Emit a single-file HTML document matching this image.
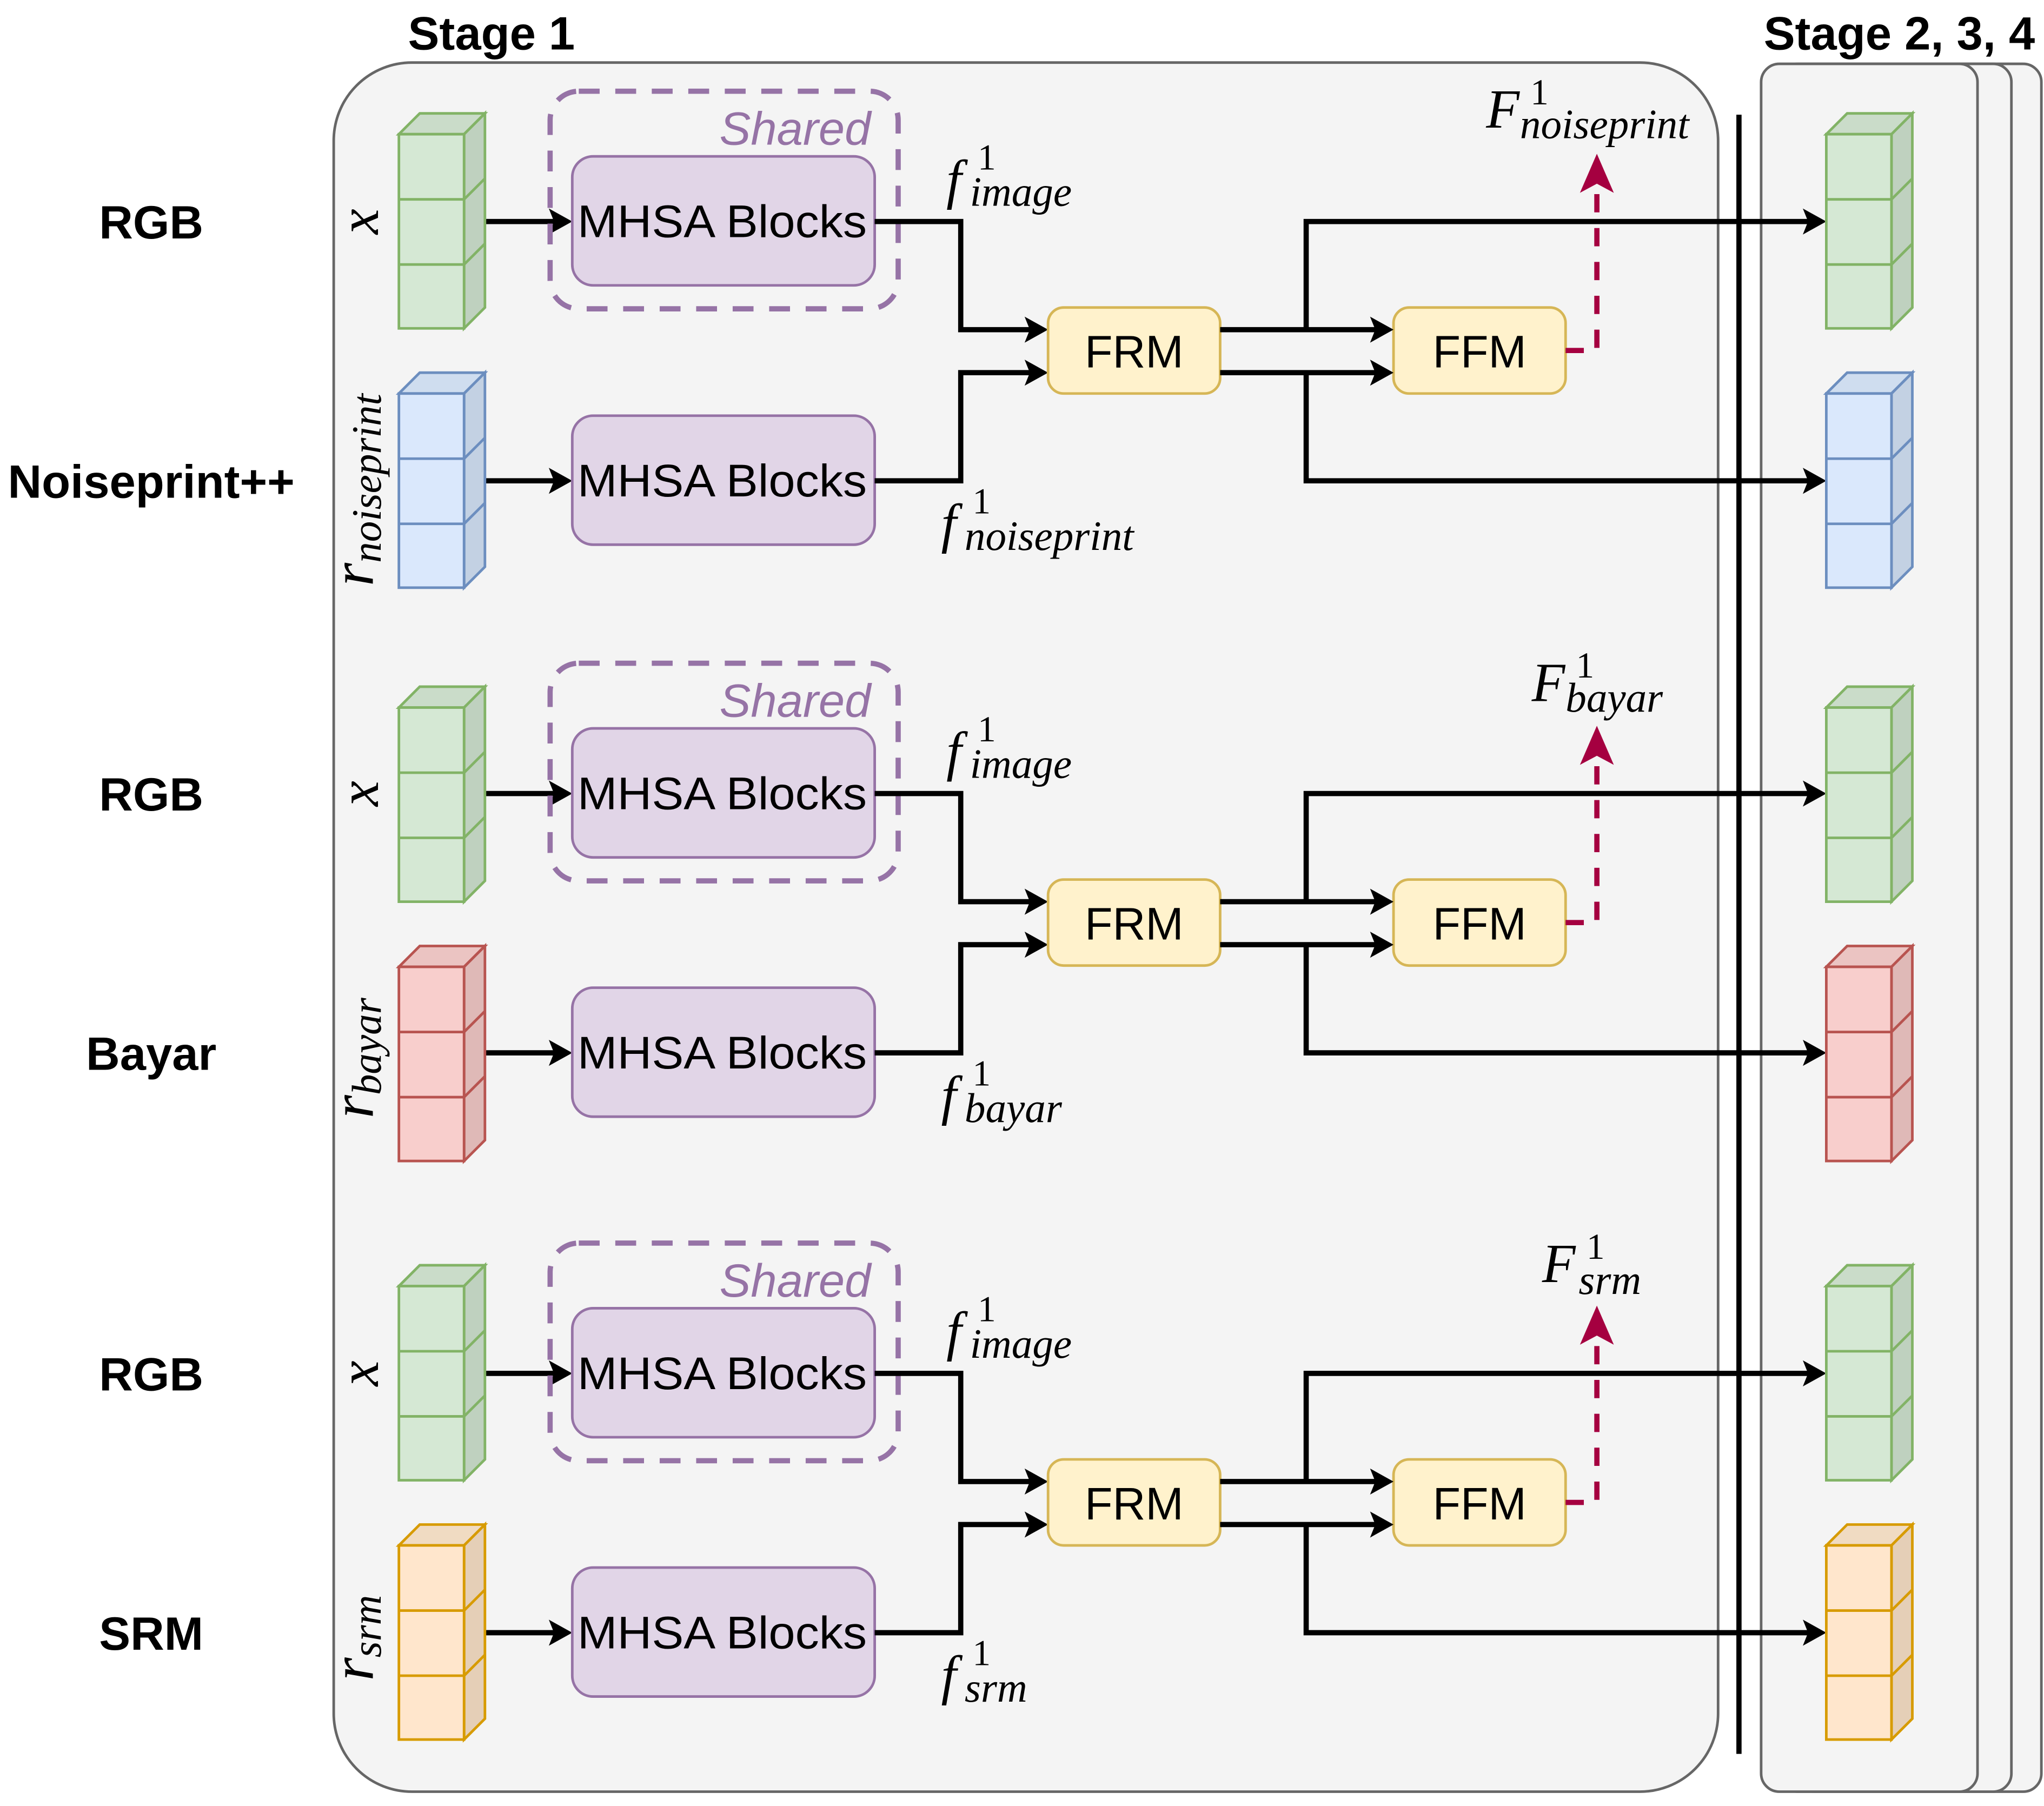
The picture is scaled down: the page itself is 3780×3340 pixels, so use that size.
<!DOCTYPE html>
<html><head><meta charset="utf-8"><style>
html,body{margin:0;padding:0;background:#fff;}
svg{display:block;}
.lbl{font-family:"Liberation Sans",sans-serif;font-weight:bold;font-size:36px;fill:#000;}
.box{font-family:"Liberation Sans",sans-serif;font-size:35px;fill:#000;}
.m{font-family:"Liberation Serif",serif;font-style:italic;fill:#000;}
.sh{font-family:"Liberation Sans",sans-serif;font-style:italic;font-size:36px;fill:#9673a6;}
.cf{fill:var(--f);stroke:var(--s);stroke-width:2;}
.ct{fill:var(--t);stroke:var(--s);stroke-width:2;}
.cs{fill:var(--d);stroke:var(--s);stroke-width:2;}
.cl{stroke:var(--s);stroke-width:2;fill:none;}
.g{--f:#d5e8d4;--t:#cadcc9;--d:#bfd1bf;--s:#82b366;}
.b{--f:#dae8fc;--t:#cfddef;--d:#c3d1e3;--s:#6c8ebf;}
.r{--f:#f8cecc;--t:#ebc4c2;--d:#dfb9b7;--s:#b85450;}
.o{--f:#ffe6cc;--t:#f0dbc2;--d:#e5cfb7;--s:#d79b00;}
.w{stroke:#000;stroke-width:4;fill:none;}
</style></head><body>
<svg width="3780" height="3340" viewBox="0 0 1568 1386" preserveAspectRatio="none" xmlns="http://www.w3.org/2000/svg">
<defs>
<symbol id="cube" overflow="visible">
<polygon class="ct" points="0,16 16,0 66,0 50,16"/>
<polygon class="cs" points="50,16 66,0 66,149 50,165"/>
<rect class="cf" x="0" y="16" width="50" height="149"/>
<line class="cl" x1="0" y1="66" x2="50" y2="66"/>
<line class="cl" x1="0" y1="116" x2="50" y2="116"/>
<line class="cl" x1="50" y1="66" x2="66" y2="50"/>
<line class="cl" x1="50" y1="116" x2="66" y2="100"/>
</symbol>
</defs>

<rect x="1378" y="49" width="188" height="1326" rx="14" fill="#f4f4f4" stroke="#666" stroke-width="2"/>
<rect x="1365" y="49" width="178" height="1326" rx="14" fill="#f4f4f4" stroke="#666" stroke-width="2"/>
<rect x="1351" y="49" width="166" height="1326" rx="14" fill="#f4f4f4" stroke="#666" stroke-width="2"/>
<rect x="256" y="48" width="1062" height="1327" rx="60" fill="#f4f4f4" stroke="#666" stroke-width="2"/>
<text class="lbl" x="313" y="38" font-size="32">Stage 1</text>
<text class="lbl" x="1353" y="38" font-size="32">Stage 2, 3, 4</text>

<g id="G1">
<path class="w" d="M372,170 H428"/><polygon points="439,170 421,160 425,170 421,180" fill="#000"/>
<path class="w" d="M372,369 H428"/><polygon points="439,369 421,359 425,369 421,379" fill="#000"/>
<rect x="422" y="70" width="267" height="167" rx="22" fill="none" stroke="#9673a6" stroke-width="4" stroke-dasharray="16,12"/>
<rect x="439" y="120" width="232" height="99" rx="16" fill="#e1d5e7" stroke="#9673a6" stroke-width="2"/>
<rect x="439" y="319" width="232" height="99" rx="16" fill="#e1d5e7" stroke="#9673a6" stroke-width="2"/>
<text class="box" x="443" y="182" textLength="222" lengthAdjust="spacingAndGlyphs">MHSA Blocks</text>
<text class="box" x="443" y="381" textLength="222" lengthAdjust="spacingAndGlyphs">MHSA Blocks</text>
<path class="w" d="M671,170 H737 V253 H793"/><polygon points="804,253 786,243 790,253 786,263" fill="#000"/>
<path class="w" d="M671,369 H737 V286 H793"/><polygon points="804,286 786,276 790,286 786,296" fill="#000"/>
<rect x="804" y="236" width="132" height="66" rx="12" fill="#fff2cc" stroke="#d6b656" stroke-width="2"/>
<rect x="1069" y="236" width="132" height="66" rx="12" fill="#fff2cc" stroke="#d6b656" stroke-width="2"/>
<text class="box" x="870" y="282" text-anchor="middle">FRM</text>
<text class="box" x="1135" y="282" text-anchor="middle">FFM</text>
<path class="w" d="M936,253 H1058"/><polygon points="1069,253 1051,243 1055,253 1051,263" fill="#000"/>
<path class="w" d="M936,286 H1058"/><polygon points="1069,286 1051,276 1055,286 1051,296" fill="#000"/>
<path class="w" d="M1002,253 V170 H1390"/><polygon points="1401,170 1383,160 1387,170 1383,180" fill="#000"/>
<path class="w" d="M1002,286 V369 H1390"/><polygon points="1401,369 1383,359 1387,369 1383,379" fill="#000"/>
<path d="M1201,269 H1225 V140" fill="none" stroke="#a50040" stroke-width="4" stroke-dasharray="14,12"/>
<polygon points="1225,118 1212,148 1225,141 1238,148" fill="#a50040"/>
<text class="sh" x="668" y="111" text-anchor="end">Shared</text>
</g>
<use href="#G1" transform="translate(0,439)"/>
<use href="#G1" transform="translate(0,884)"/>

<line x1="1334" y1="88" x2="1334" y2="1346" stroke="#000" stroke-width="4"/>

<use href="#cube" class="g" x="306" y="87"/>
<use href="#cube" class="b" x="306" y="286"/>
<use href="#cube" class="g" x="306" y="527"/>
<use href="#cube" class="r" x="306" y="726"/>
<use href="#cube" class="g" x="306" y="971"/>
<use href="#cube" class="o" x="306" y="1170"/>
<use href="#cube" class="g" x="1401" y="87"/>
<use href="#cube" class="b" x="1401" y="286"/>
<use href="#cube" class="g" x="1401" y="527"/>
<use href="#cube" class="r" x="1401" y="726"/>
<use href="#cube" class="g" x="1401" y="971"/>
<use href="#cube" class="o" x="1401" y="1170"/>

<text class="lbl" x="116" y="183" text-anchor="middle">RGB</text>
<text class="lbl" x="116" y="382" text-anchor="middle">Noiseprint++</text>
<text class="lbl" x="116" y="622" text-anchor="middle">RGB</text>
<text class="lbl" x="116" y="821" text-anchor="middle">Bayar</text>
<text class="lbl" x="116" y="1067" text-anchor="middle">RGB</text>
<text class="lbl" x="116" y="1266" text-anchor="middle">SRM</text>

<text class="m" font-size="44" transform="translate(290,170) rotate(-90)" text-anchor="middle">x</text>
<text class="m" font-size="46" transform="translate(286,376) rotate(-90)" text-anchor="middle">r<tspan font-size="32" dy="6">noiseprint</tspan></text>
<text class="m" font-size="44" transform="translate(290,609) rotate(-90)" text-anchor="middle">x</text>
<text class="m" font-size="46" transform="translate(286,812) rotate(-90)" text-anchor="middle">r<tspan font-size="32" dy="6">bayar</tspan></text>
<text class="m" font-size="44" transform="translate(290,1054) rotate(-90)" text-anchor="middle">x</text>
<text class="m" font-size="46" transform="translate(286,1257) rotate(-90)" text-anchor="middle">r<tspan font-size="32" dy="6">srm</tspan></text>

<g class="m">
<text x="726" y="152" font-size="42">f</text><text x="750" y="130" font-size="28" font-style="normal">1</text><text x="744" y="158" font-size="32">image</text>
<text x="722" y="416" font-size="42">f</text><text x="746" y="394" font-size="28" font-style="normal">1</text><text x="740" y="422" font-size="32">noiseprint</text>
<text x="726" y="591" font-size="42">f</text><text x="750" y="569" font-size="28" font-style="normal">1</text><text x="744" y="597" font-size="32">image</text>
<text x="722" y="855" font-size="42">f</text><text x="746" y="833" font-size="28" font-style="normal">1</text><text x="740" y="861" font-size="32">bayar</text>
<text x="726" y="1036" font-size="42">f</text><text x="750" y="1014" font-size="28" font-style="normal">1</text><text x="744" y="1042" font-size="32">image</text>
<text x="722" y="1300" font-size="42">f</text><text x="746" y="1278" font-size="28" font-style="normal">1</text><text x="740" y="1306" font-size="32">srm</text>

<text x="1140" y="98" font-size="42">F</text><text x="1174" y="80" font-size="28" font-style="normal">1</text><text x="1166" y="106" font-size="32">noiseprint</text>
<text x="1175" y="538" font-size="42">F</text><text x="1209" y="520" font-size="28" font-style="normal">1</text><text x="1201" y="546" font-size="32">bayar</text>
<text x="1183" y="984" font-size="42">F</text><text x="1217" y="966" font-size="28" font-style="normal">1</text><text x="1211" y="993" font-size="32">srm</text>
</g>
</svg>
</body></html>
